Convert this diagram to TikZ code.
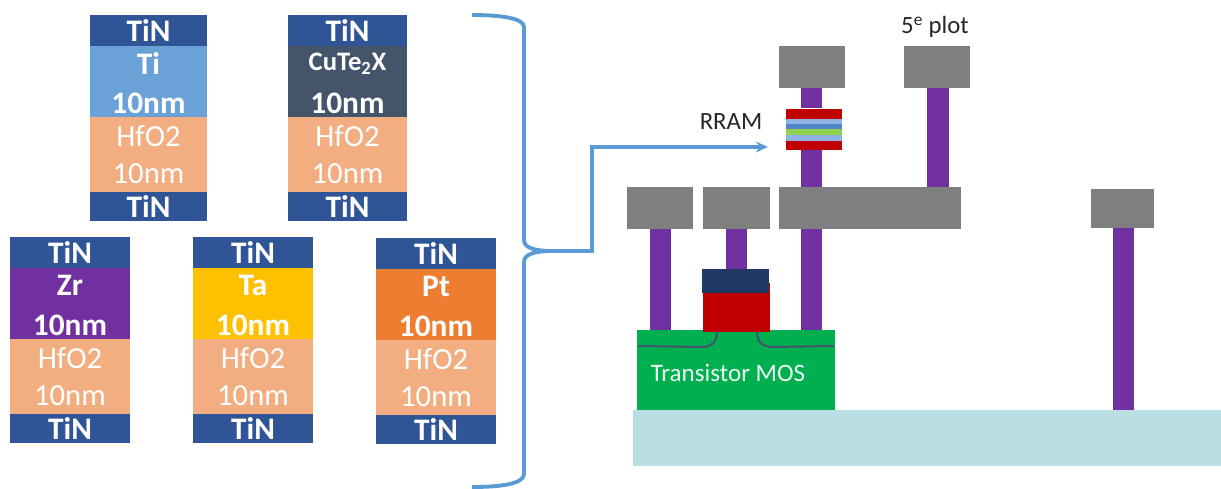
\documentclass[tikz,border=0pt]{standalone}
\usepackage{fontspec}
\setmainfont{Carlito}
\usetikzlibrary{arrows.meta}
\definecolor{tin}{HTML}{2F5597}
\definecolor{hfo}{HTML}{F2AE80}
\definecolor{tiblue}{HTML}{6AA2D8}
\definecolor{cute}{HTML}{44546A}
\definecolor{zr}{HTML}{7030A0}
\definecolor{ta}{HTML}{FFC000}
\definecolor{pt}{HTML}{ED7D31}
\definecolor{metal}{HTML}{7F7F7F}
\definecolor{wine}{HTML}{C00000}
\definecolor{navy}{HTML}{1F3864}
\definecolor{mos}{HTML}{00B050}
\definecolor{subst}{HTML}{B9DFE4}
\definecolor{lineblue}{HTML}{5B9BD5}
\definecolor{lblue}{HTML}{8FB4E3}
\definecolor{mblue}{HTML}{4F86C6}
\definecolor{lime}{HTML}{92D050}
\definecolor{ltxt}{HTML}{262626}
\newcommand{\lay}[7][]{%
  \pgfmathsetmacro{\lw}{#5-#3}\pgfmathsetmacro{\lh}{#6-#4}%
  \node[layer,fill=#7,minimum width=\lw*0.75pt,minimum height=\lh*0.75pt] (#2) at ({(#3+#5)/2},{(#4+#6)/2}) {#1};}
\newcommand{\stack}[6]{% name, x1, width, y-top, colour, label
  \pgfmathsetmacro{\xb}{#2+#3}%
  \pgfmathsetmacro{\ya}{#4+31}\pgfmathsetmacro{\yb}{#4+102}\pgfmathsetmacro{\yc}{#4+177}\pgfmathsetmacro{\yd}{#4+206}%
  \lay[]{#1tc}{#2}{#4}{\xb}{\ya}{tin}
  \lay[]{#1el}{#2}{\ya}{\xb}{\yb}{#5}
  \lay[]{#1ox}{#2}{\yb}{\xb}{\yc}{hfo}
  \lay[]{#1bc}{#2}{\yc}{\xb}{\yd}{tin}
  \node[lab] at (#1tc) {TiN};
  \node[lab] at (#1bc) {TiN};
  \node[lab] at ([yshift=-17.5*0.75pt]#1el.north) {#6};
  \node[lab] at ([yshift=14*0.75pt]#1el.south) {10nm};
  \node[labn] at ([yshift=-19*0.75pt]#1ox.north) {HfO2};
  \node[labn] at ([yshift=18.5*0.75pt]#1ox.south) {10nm};
}
\tikzset{
  layer/.style={inner sep=0pt,outer sep=0pt,draw=none,text=white},
  lab/.style={inner sep=0pt,text=white,font=\fontsize{23.5}{27}\selectfont\bfseries},
  labn/.style={inner sep=0pt,text=white,font=\fontsize{23}{27}\selectfont},
  bluel/.style={draw=lineblue,line width=2.9pt},
  impl/.style={draw=cute,line width=1.5pt,line cap=round},
  captext/.style={inner sep=0pt,text=ltxt,font=\fontsize{18.6}{22}\selectfont}
}
\begin{document}
\begin{tikzpicture}[x=0.75pt,y=-0.75pt]
\useasboundingbox (0,0) rectangle (1221,489);
% stacks
\stack{a}{90}{117}{15}{tiblue}{Ti}
\stack{b}{288}{119}{15}{cute}{\fontsize{20}{24}\selectfont CuTe\textsubscript{2}X}
\stack{c}{10}{120}{237}{zr}{Zr}
\stack{d}{193}{120}{237}{ta}{Ta}
\stack{e}{376}{120}{238}{pt}{Pt}
% brace
\coordinate (bracetop) at (472,15);
\coordinate (bracebot) at (472,487);
\coordinate (bracetip) at (553,251);
\coordinate (rramtip) at (768,147);
\coordinate (corner) at (592,147);
\draw[bluel] (bracetop) .. controls (500,15) and (524,18) .. (524,27) -- (524,240)
  .. controls (524,248) and (535,251) .. (bracetip)
  .. controls (535,251) and (524,254) .. (524,262) -- (524,474)
  .. controls (524,484) and (500,487) .. (bracebot);
\draw[lineblue,line width=2.3pt,-{Stealth[length=9pt,width=8pt]}] (bracetip) -- (592,251) -- (corner) -- (rramtip);
% substrate
\lay{sub}{633}{410}{1221}{466}{subst}
% vias
\lay{v1}{650}{229}{671}{331}{zr}
\lay{v2}{726}{229}{747}{270}{zr}
\lay{v3}{801}{229}{822}{331}{zr}
\lay{v4}{801}{150}{822}{188}{zr}
\lay{v5}{801}{88}{822}{108}{zr}
\lay{v6}{927}{88}{949}{188}{zr}
\lay{v7}{1113}{228}{1134}{410}{zr}
% metal
\lay{m1}{627}{187}{693}{229}{metal}
\lay{m2}{703}{187}{770}{229}{metal}
\lay{m3}{779}{187}{961}{229}{metal}
\lay{m4}{779}{46}{845}{88}{metal}
\lay{m5}{904}{46}{970}{88}{metal}
\lay{m6}{1091}{189}{1154}{228}{metal}
% transistor
\lay{mosb}{637}{330}{835}{410}{mos}
\lay{gate}{703}{283}{770}{332}{wine}
\lay{gtop}{702}{269}{769}{293}{navy}
\draw[impl] (639,346) -- (700,347) .. controls (712,347) and (717,342) .. (717,332);
\draw[impl] (757,332) .. controls (757,342) and (762,347) .. (775,347) -- (833,346);
\node[inner sep=0pt,text=white!92!mos,font=\fontsize{18.8}{22}\selectfont] (moslab) at (728,373) {Transistor MOS};
% RRAM
\lay{r1}{786}{109}{842}{119}{wine}
\lay{r2}{786}{119}{842}{124}{lblue}
\lay{r3}{786}{124}{842}{129}{mblue}
\lay{r4}{786}{129}{842}{135}{lime}
\lay{r5}{786}{135}{842}{141}{lblue}
\lay{r6}{786}{141}{842}{150}{wine}
% captions
\node[captext] (rramlab) at (731,122) {RRAM};
\node[captext] (plotlab) at (935,27) {5\textsuperscript{e} plot};
\end{tikzpicture}
\end{document}
